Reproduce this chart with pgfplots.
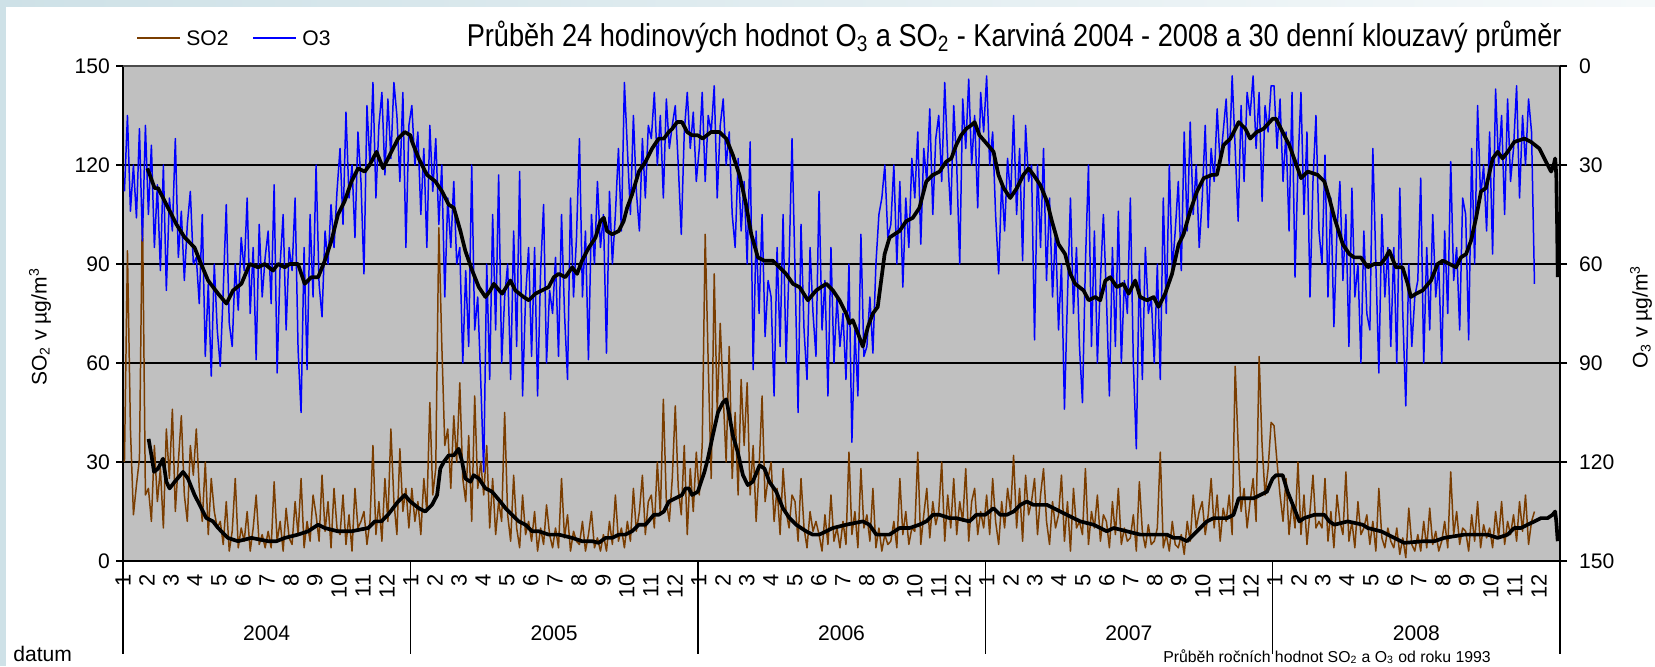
\documentclass[border=0pt]{standalone}
\usepackage{fontspec}
\setmainfont{Liberation Sans}
\usepackage{pgfplots}
\pgfplotsset{compat=1.18}
\usepackage{pgfplotstable}

\definecolor{plotgray}{RGB}{192,192,192}
\definecolor{sobrown}{RGB}{122,61,0}
\definecolor{bgblue}{RGB}{206,225,231}
\newcommand\fs{\fontsize{12}{14}\selectfont}

% daily values, sampled 8 per month, Jan 2004 - Nov 2008
\pgfplotstableread[row sep=\\]{
v\\
30\\94\\40\\14\\23\\31\\108\\20\\ 22\\12\\35\\18\\28\\10\\40\\25\\ 46\\15\\30\\44\\20\\12\\35\\26\\ 40\\22\\12\\30\\8\\25\\15\\10\\
12\\5\\18\\3\\9\\25\\4\\10\\ 6\\15\\3\\10\\20\\5\\8\\4\\ 9\\4\\24\\6\\12\\3\\16\\7\\ 5\\18\\8\\25\\4\\12\\6\\20\\
14\\6\\26\\9\\18\\4\\22\\10\\ 8\\20\\5\\14\\3\\22\\10\\12\\ 15\\5\\12\\35\\8\\18\\6\\25\\ 12\\40\\18\\8\\34\\15\\22\\10\\
22\\12\\18\\8\\25\\15\\48\\20\\ 28\\101\\66\\35\\40\\22\\44\\30\\ 54\\25\\18\\38\\12\\50\\22\\30\\ 20\\35\\10\\25\\8\\18\\12\\45\\
14\\6\\26\\10\\4\\20\\8\\12\\ 6\\15\\3\\10\\5\\17\\8\\4\\ 10\\4\\25\\7\\14\\3\\9\\6\\ 5\\12\\3\\8\\15\\4\\7\\3\\
8\\3\\12\\5\\20\\6\\10\\4\\ 12\\6\\22\\9\\15\\26\\8\\18\\ 20\\10\\30\\14\\49\\18\\12\\25\\ 47\\22\\14\\35\\8\\28\\15\\33\\
20\\35\\99\\60\\25\\87\\45\\72\\ 50\\30\\65\\25\\45\\20\\55\\35\\ 54\\20\\35\\12\\28\\50\\18\\25\\ 30\\12\\22\\8\\28\\15\\10\\20\\
18\\6\\25\\10\\4\\15\\9\\12\\ 8\\3\\14\\5\\20\\6\\10\\4\\ 12\\5\\33\\8\\15\\4\\28\\10\\ 14\\6\\22\\4\\10\\3\\8\\5\\
6\\12\\4\\25\\8\\15\\5\\10\\ 9\\33\\5\\14\\22\\7\\18\\11\\ 15\\30\\6\\20\\10\\25\\8\\18\\ 12\\28\\6\\18\\22\\8\\15\\10\\
20\\8\\25\\12\\5\\18\\10\\22\\ 15\\32\\10\\22\\6\\26\\14\\18\\ 25\\8\\20\\28\\12\\5\\18\\10\\ 14\\26\\6\\18\\3\\22\\10\\12\\
8\\28\\5\\15\\10\\20\\6\\14\\ 12\\4\\18\\8\\22\\5\\10\\6\\ 7\\14\\3\\24\\9\\4\\11\\5\\ 6\\10\\33\\4\\8\\3\\12\\5\\
4\\8\\2\\12\\6\\20\\10\\15\\ 18\\8\\14\\25\\10\\20\\6\\16\\ 12\\20\\8\\59\\35\\15\\22\\10\\ 18\\25\\12\\62\\35\\20\\28\\42\\
41\\30\\20\\12\\25\\8\\18\\10\\ 30\\8\\20\\5\\15\\26\\10\\12\\ 10\\25\\6\\15\\4\\20\\12\\8\\ 27\\6\\12\\4\\18\\8\\10\\14\\
5\\12\\3\\22\\7\\4\\10\\6\\ 4\\10\\2\\7\\1\\16\\5\\3\\ 8\\3\\12\\4\\16\\5\\9\\3\\ 6\\12\\4\\27\\8\\15\\5\\10\\
9\\3\\14\\6\\18\\4\\11\\7\\ 10\\4\\15\\7\\18\\5\\12\\8\\ 14\\6\\18\\9\\20\\5\\12\\15\\
}\sotwo

\pgfplotstableread[row sep=\\]{
v\\
38\\15\\44\\30\\46\\19\\53\\18\\ 45\\24\\55\\36\\62\\30\\68\\40\\ 50\\22\\58\\44\\65\\48\\38\\60\\ 58\\72\\45\\88\\66\\94\\60\\80\\
91\\68\\42\\78\\85\\60\\74\\52\\ 62\\40\\75\\55\\89\\48\\70\\58\\ 50\\72\\36\\93\\60\\45\\80\\55\\ 62\\40\\86\\105\\55\\92\\45\\70\\
30\\66\\76\\50\\60\\42\\55\\38\\ 25\\48\\14\\40\\30\\52\\20\\35\\ 63\\12\\30\\5\\40\\18\\8\\33\\ 10\\28\\5\\15\\35\\8\\55\\18\\
12\\30\\20\\45\\25\\55\\18\\38\\ 22\\48\\30\\70\\40\\55\\35\\60\\ 55\\90\\62\\85\\30\\80\\70\\95\\ 123\\60\\95\\45\\80\\33\\90\\70\\
60\\95\\50\\85\\32\\100\\70\\55\\ 88\\55\\100\\62\\42\\90\\68\\75\\ 58\\88\\45\\75\\95\\40\\70\\52\\ 22\\70\\50\\89\\45\\60\\35\\55\\
45\\87\\38\\60\\45\\25\\50\\5\\ 25\\45\\15\\38\\50\\22\\40\\18\\ 22\\8\\30\\15\\40\\10\\25\\18\\ 12\\30\\51\\20\\8\\25\\14\\35\\
25\\8\\35\\15\\20\\6\\40\\18\\ 10\\30\\20\\45\\55\\28\\50\\35\\ 60\\23\\92\\50\\75\\45\\82\\65\\ 70\\100\\55\\85\\45\\90\\60\\22\\
62\\105\\48\\80\\95\\55\\75\\88\\ 38\\80\\65\\100\\55\\90\\70\\85\\ 75\\95\\60\\114\\80\\100\\51\\88\\ 85\\70\\87\\60\\45\\40\\30\\52\\
48\\30\\60\\35\\67\\40\\55\\28\\ 40\\20\\54\\25\\35\\13\\45\\22\\ 15\\35\\5\\28\\45\\12\\30\\60\\ 10\\25\\4\\30\\15\\43\\8\\20\\
3\\30\\20\\45\\63\\35\\50\\28\\ 40\\15\\45\\25\\59\\18\\35\\30\\ 83\\30\\55\\25\\65\\40\\70\\50\\ 80\\60\\104\\70\\40\\75\\55\\85\\
102\\60\\30\\85\\50\\90\\65\\45\\ 70\\100\\55\\85\\44\\90\\65\\75\\ 40\\90\\116\\60\\95\\55\\75\\70\\ 90\\60\\95\\40\\75\\30\\62\\50\\
35\\62\\20\\50\\17\\45\\30\\55\\ 40\\18\\49\\25\\35\\13\\30\\20\\ 10\\30\\3\\25\\47\\12\\35\\8\\ 15\\3\\25\\8\\41\\12\\20\\6\\
6\\25\\10\\35\\20\\50\\8\\64\\ 30\\8\\45\\20\\70\\35\\15\\50\\ 60\\27\\70\\40\\79\\50\\35\\65\\ 45\\85\\37\\70\\60\\90\\50\\75\\
80\\25\\60\\93\\45\\70\\55\\85\\ 55\\90\\37\\75\\103\\60\\85\\70\\ 65\\34\\90\\55\\80\\45\\70\\60\\ 90\\50\\75\\29\\65\\55\\80\\40\\
45\\83\\25\\60\\12\\40\\30\\50\\ 20\\57\\7\\30\\15\\45\\10\\35\\ 25\\6\\40\\15\\30\\10\\20\\66\\
}\othree

\begin{document}
\begin{tikzpicture}[x=0.2mm,y=0.2mm]
\useasboundingbox (0,0) rectangle (1655,666);
\fill[bgblue] (0,0) rectangle (1655,666);
\shade[left color=bgblue, right color=bgblue!20] (0,659) rectangle (1655,666);
\fill[white] (6,0) rectangle (1655,659);

\pgfplotsset{every axis/.append style={
  at={(24.6mm,21mm)}, anchor=south west, scale only axis,
  width=287.4mm, height=99mm,
  xmin=2004, xmax=2009, ymin=0, ymax=150,
  ytick={0,30,...,150},
  tick label style={font=\fs},
  /pgf/number format/assume math mode=true,
  tick align=outside, major tick length=1.4mm,
  axis line style={-, black, line width=0.8pt},
  ytick style={black, line width=0.8pt},
}}

\begin{axis}[
  axis x line*=bottom, axis y line*=left,
  axis background/.style={fill=plotgray},
  xtick={2004,2004.083333,...,2008.92},
  xticklabels={1,2,3,4,5,6,7,8,9,10,11,12,1,2,3,4,5,6,7,8,9,10,11,12,
    1,2,3,4,5,6,7,8,9,10,11,12,1,2,3,4,5,6,7,8,9,10,11,12,
    1,2,3,4,5,6,7,8,9,10,11,12},
  xtick style={draw=none},
  xticklabel style={rotate=90, anchor=east, font=\fontsize{12.5}{14}\selectfont},
]
\foreach \g in {30,60,90,120}{
  \edef\tmp{\noexpand\draw[black, line width=0.7pt] (axis cs:2004,\g) -- (axis cs:2009,\g);}\tmp
}
\addplot[sobrown, line width=0.85pt, line join=round]
  table[x expr=2004+(\coordindex+0.5)/96, y=v] {\sotwo};
\addplot[black, line width=2.1pt, line join=round] coordinates {
(2004.089,37) (2004.099,32) (2004.108,27) (2004.122,28) (2004.139,31) (2004.151,24) (2004.162,22) (2004.180,24) (2004.209,27) (2004.226,25) (2004.249,20) (2004.267,17) (2004.290,13) (2004.313,12) (2004.331,10) (2004.365,7) (2004.400,6) (2004.447,7) (2004.505,6) (2004.534,6) (2004.563,7) (2004.609,8) (2004.644,9) (2004.679,11) (2004.702,10) (2004.748,9) (2004.795,9) (2004.853,10) (2004.876,12) (2004.899,12) (2004.922,14) (2004.957,18) (2004.980,20) (2005.000,18)
(2005.029,16) (2005.052,15) (2005.075,17) (2005.093,20) (2005.104,28) (2005.116,30) (2005.133,32) (2005.151,32) (2005.168,34) (2005.180,30) (2005.191,25) (2005.209,24) (2005.220,26) (2005.238,25) (2005.261,22) (2005.284,21) (2005.313,18) (2005.331,16) (2005.354,14) (2005.377,12) (2005.400,11) (2005.423,9) (2005.447,9) (2005.481,8) (2005.516,8) (2005.563,7) (2005.597,6) (2005.632,6) (2005.655,5.5) (2005.679,7) (2005.702,7) (2005.725,8) (2005.748,8) (2005.771,9) (2005.795,11) (2005.818,11) (2005.847,14) (2005.864,14) (2005.882,15) (2005.899,18) (2005.922,19) (2005.945,20) (2005.957,22) (2005.969,22) (2005.980,20) (2006.000,21)
(2006.023,27) (2006.035,31) (2006.052,38) (2006.070,45) (2006.087,48) (2006.099,49) (2006.110,44) (2006.122,38) (2006.139,33) (2006.157,26) (2006.174,23) (2006.191,24) (2006.215,29) (2006.232,28) (2006.249,24) (2006.273,21) (2006.296,16) (2006.319,13) (2006.342,11) (2006.377,9) (2006.400,8) (2006.423,8) (2006.470,10) (2006.516,11) (2006.574,12) (2006.597,11) (2006.621,8) (2006.644,8) (2006.667,8) (2006.702,10) (2006.737,10) (2006.771,11) (2006.795,12) (2006.818,14) (2006.841,14) (2006.876,13) (2006.899,13) (2006.945,12) (2006.969,14) (2007.000,14)
(2007.029,16) (2007.052,14) (2007.075,14) (2007.099,15) (2007.122,17) (2007.145,18) (2007.168,17) (2007.191,17) (2007.215,17) (2007.238,16) (2007.261,15) (2007.284,14) (2007.307,13) (2007.331,12) (2007.377,11) (2007.423,9) (2007.447,10) (2007.493,9) (2007.539,8) (2007.586,8) (2007.632,8) (2007.655,7) (2007.679,7) (2007.702,6) (2007.725,8) (2007.748,10) (2007.771,12) (2007.795,13) (2007.841,13) (2007.864,14) (2007.882,19) (2007.911,19) (2007.934,19) (2007.957,20) (2007.980,21) (2008.000,25)
(2008.012,26) (2008.035,26) (2008.052,21) (2008.075,16) (2008.093,12) (2008.110,13) (2008.145,14) (2008.180,14) (2008.197,12) (2008.215,11) (2008.261,12) (2008.313,11) (2008.331,10) (2008.377,9) (2008.400,8) (2008.423,7) (2008.458,5.5) (2008.528,6) (2008.563,6) (2008.597,7) (2008.667,8) (2008.702,8) (2008.748,8) (2008.783,7) (2008.818,8) (2008.841,10) (2008.864,10) (2008.887,11) (2008.911,12) (2008.934,13) (2008.957,13) (2008.974,14) (2008.983,15) (2008.987,12) (2008.992,6)
};
\draw[gray!60!black, line width=1pt] (rel axis cs:0,1) -- (rel axis cs:1,1);
\coordinate (b0) at (axis cs:2004,0);
\coordinate (b1) at (axis cs:2005,0);
\coordinate (b2) at (axis cs:2006,0);
\coordinate (b3) at (axis cs:2007,0);
\coordinate (b4) at (axis cs:2008,0);
\coordinate (b5) at (axis cs:2009,0);
\end{axis}

\begin{axis}[
  y dir=reverse, axis y line*=right, axis x line=none,
  yticklabel style={xshift=1.2mm},
]
\addplot[blue, line width=0.85pt, line join=round]
  table[x expr=2004+(\coordindex+0.5)/96, y=v] {\othree};
\addplot[black, line width=2.1pt, line join=round] coordinates {
(2004.085,31) (2004.110,37) (2004.122,37) (2004.157,43) (2004.186,48) (2004.215,52) (2004.249,55) (2004.267,59) (2004.296,65) (2004.331,69) (2004.360,72) (2004.383,68) (2004.412,66) (2004.441,60) (2004.470,61) (2004.493,60) (2004.522,62) (2004.539,60) (2004.563,61) (2004.580,60) (2004.609,60) (2004.632,66) (2004.655,64) (2004.679,64) (2004.702,59) (2004.725,53) (2004.748,45) (2004.771,41) (2004.795,35) (2004.818,31) (2004.841,32) (2004.858,30) (2004.882,26) (2004.905,31) (2004.928,27) (2004.957,22) (2004.980,20) (2005.000,21)
(2005.006,23) (2005.029,28) (2005.046,31) (2005.058,33) (2005.087,35) (2005.110,38) (2005.133,42) (2005.151,43) (2005.174,50) (2005.191,56) (2005.215,62) (2005.238,67) (2005.261,70) (2005.278,68) (2005.290,66) (2005.319,69) (2005.348,65) (2005.365,68) (2005.394,70) (2005.412,71) (2005.435,69) (2005.458,68) (2005.481,67) (2005.499,64) (2005.516,63) (2005.539,64) (2005.563,61) (2005.580,63) (2005.597,59) (2005.621,55) (2005.644,52) (2005.661,47) (2005.673,46) (2005.684,50) (2005.702,51) (2005.725,50) (2005.742,47) (2005.754,43) (2005.771,39) (2005.795,32) (2005.818,29) (2005.841,25) (2005.864,22) (2005.882,22) (2005.899,20) (2005.911,19) (2005.928,17) (2005.945,17) (2005.963,20) (2005.980,21) (2006.000,21)
(2006.017,22) (2006.046,20) (2006.075,20) (2006.099,22) (2006.122,27) (2006.145,33) (2006.168,42) (2006.186,51) (2006.209,58) (2006.232,59) (2006.261,59) (2006.284,61) (2006.307,63) (2006.331,66) (2006.354,67) (2006.383,71) (2006.412,68) (2006.429,67) (2006.447,66) (2006.470,68) (2006.493,71) (2006.516,75) (2006.528,78) (2006.539,77) (2006.557,81) (2006.574,85) (2006.592,79) (2006.609,75) (2006.626,73) (2006.638,65) (2006.650,57) (2006.667,52) (2006.684,51) (2006.702,50) (2006.725,47) (2006.748,46) (2006.771,43) (2006.795,35) (2006.818,33) (2006.841,32) (2006.864,29) (2006.882,28) (2006.899,24) (2006.916,21) (2006.934,19) (2006.951,18) (2006.963,17) (2006.980,21) (2007.000,23)
(2007.029,26) (2007.046,33) (2007.064,37) (2007.087,40) (2007.110,37) (2007.133,33) (2007.151,31) (2007.168,33) (2007.191,36) (2007.215,41) (2007.232,47) (2007.255,54) (2007.278,57) (2007.296,63) (2007.313,66) (2007.342,68) (2007.360,71) (2007.383,70) (2007.400,71) (2007.418,65) (2007.435,64) (2007.458,67) (2007.481,66) (2007.499,69) (2007.522,65) (2007.539,70) (2007.563,71) (2007.586,70) (2007.603,73) (2007.626,69) (2007.650,63) (2007.673,54) (2007.690,51) (2007.713,44) (2007.737,38) (2007.760,34) (2007.789,33) (2007.806,33) (2007.829,24) (2007.853,22) (2007.882,17) (2007.905,19) (2007.922,22) (2007.945,20) (2007.969,19) (2008.000,16)
(2008.012,16) (2008.029,19) (2008.058,24) (2008.087,31) (2008.099,34) (2008.122,32) (2008.157,33) (2008.180,35) (2008.197,40) (2008.215,46) (2008.244,54) (2008.267,57) (2008.284,58) (2008.307,58) (2008.331,61) (2008.354,60) (2008.377,60) (2008.394,58) (2008.406,56) (2008.429,61) (2008.452,61) (2008.470,66) (2008.481,70) (2008.499,69) (2008.522,68) (2008.551,65) (2008.574,60) (2008.592,59) (2008.615,60) (2008.638,61) (2008.655,58) (2008.673,57) (2008.690,53) (2008.708,46) (2008.725,38) (2008.742,37) (2008.766,28) (2008.783,26) (2008.800,28) (2008.818,26) (2008.841,23) (2008.876,22) (2008.899,23) (2008.928,25) (2008.951,29) (2008.969,32) (2008.978,30) (2008.983,28) (2008.987,33) (2008.990,49) (2008.992,64)
};
\end{axis}

% year separators and labels under the month ticks
\foreach \b in {b0,b1,b2,b3,b4,b5}{
  \draw[black, line width=0.8pt] (\b) -- ++(0,-93);
}
\foreach \y [count=\i from 0] in {2004,2005,2006,2007,2008}{
  \node[font=\fs] at ({123+287.4*(\i+0.5)},33) {\y};
}

% legend
\draw[sobrown, line width=0.8pt] (137,628) -- (180,628);
\node[font=\fs, anchor=west, inner sep=0pt] at (186,628) {SO2};
\draw[blue, line width=0.8pt] (253,628) -- (296,628);
\node[font=\fs, anchor=west, inner sep=0pt] at (302,628) {O3};

% title
\node[anchor=east, inner sep=0pt] at (1562,629)
  {\scalebox{0.86}[1]{\fontsize{18}{21}\selectfont Průběh 24 hodinových hodnot O\textsubscript{3} a SO\textsubscript{2} - Karviná 2004 - 2008 a 30 denní klouzavý průměr}};

% axis titles
\node[font=\fs, rotate=90] at (40,339) {SO\textsubscript{2} v µg/m\textsuperscript{3}};
\node[font=\fs, rotate=90] at (1641,349) {O\textsubscript{3} v µg/m\textsuperscript{3}};
\node[font=\fs, anchor=west, inner sep=0pt] at (13,12) {datum};
\node[font=\fontsize{9}{11}\selectfont, anchor=base, inner sep=0pt] at (1327,4)
  {Průběh ročních hodnot SO\textsubscript{2} a O\textsubscript{3} od roku 1993};
\end{tikzpicture}
\end{document}
